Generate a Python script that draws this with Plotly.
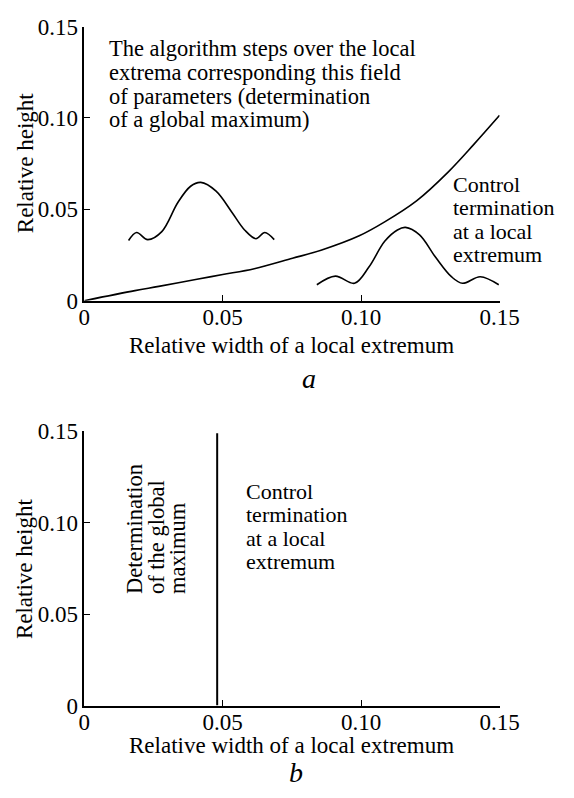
import plotly.graph_objects as go

W, H = 574, 798
FONT = "Liberation Serif"

# ---------------- data ----------------
# panel a: boundary curve between the two regimes
boundary_x = [0, 0.0183, 0.0269, 0.0407, 0.05, 0.0614, 0.0752, 0.0855, 0.0993, 0.1085, 0.12, 0.1315, 0.1407, 0.15]
boundary_y = [0, 0.0055, 0.0078, 0.0117, 0.0143, 0.0175, 0.0232, 0.0276, 0.0355, 0.0431, 0.0546, 0.0705, 0.0855, 0.1014]

# panel a: sketch of the wide (global) extremum
wide_x = [0.016, 0.0189, 0.0229, 0.028, 0.0338, 0.0384, 0.0421, 0.0476, 0.0533, 0.0579, 0.062, 0.0652, 0.0686]
wide_y = [0.0329, 0.0373, 0.0334, 0.0378, 0.0537, 0.0626, 0.0647, 0.0599, 0.0484, 0.0387, 0.0339, 0.0373, 0.0334]

# panel a: sketch of the narrow (local) extremum
narrow_x = [0.084, 0.0907, 0.0976, 0.1028, 0.1085, 0.1131, 0.116, 0.1211, 0.1269, 0.1326, 0.1366, 0.143, 0.1497]
narrow_y = [0.0087, 0.0134, 0.0095, 0.0184, 0.0325, 0.0387, 0.0401, 0.036, 0.0237, 0.0131, 0.0095, 0.0131, 0.0087]

# panel b: vertical boundary
boundary_b_x = [0.048, 0.048]
boundary_b_y = [0, 0.149]

tick_vals = [0, 0.05, 0.10, 0.15]
tick_text = ["0", "0.05", "0.10", "0.15"]

# ---------------- helpers ----------------
def px(x):
    return x / W

def py(y):
    return 1 - y / H

line_style = dict(color="black", width=1.6)

fig = go.Figure()
fig.add_trace(go.Scatter(x=boundary_x, y=boundary_y, mode="lines", line=dict(line_style, shape="spline"),
                         xaxis="x", yaxis="y", showlegend=False))
fig.add_trace(go.Scatter(x=wide_x, y=wide_y, mode="lines", line=dict(line_style, shape="spline"),
                         xaxis="x", yaxis="y", showlegend=False))
fig.add_trace(go.Scatter(x=narrow_x, y=narrow_y, mode="lines", line=dict(line_style, shape="spline"),
                         xaxis="x", yaxis="y", showlegend=False))
fig.add_trace(go.Scatter(x=boundary_b_x, y=boundary_b_y, mode="lines", line=dict(color="black", width=2),
                         xaxis="x2", yaxis="y2", showlegend=False))

axis_common = dict(
    range=[0, 0.15], tickvals=tick_vals, ticktext=tick_text,
    ticks="inside", ticklen=6, tickwidth=1, tickcolor="black",
    showline=True, linecolor="black", linewidth=1.5,
    showgrid=False, zeroline=False,
    tickfont=dict(family=FONT, size=23, color="black"),
    fixedrange=True,
)

xdom = [px(82), px(517)]
fig.update_layout(
    width=W, height=H,
    margin=dict(l=0, r=0, t=0, b=0),
    paper_bgcolor="white", plot_bgcolor="white",
    font=dict(family=FONT, size=23, color="black"),
    xaxis=dict(axis_common, domain=xdom, anchor="y", ticklabelstandoff=-5),
    yaxis=dict(axis_common, domain=[py(298), py(15)], anchor="x"),
    xaxis2=dict(axis_common, domain=xdom, anchor="y2", ticklabelstandoff=-5),
    yaxis2=dict(axis_common, domain=[py(716), py(433)], anchor="x2"),
)

ann = []

def text(x, y, s, size=22.5, xanchor="left", yanchor="middle", angle=0, italic=False):
    ann.append(dict(
        x=px(x), y=py(y), xref="paper", yref="paper", text=s, showarrow=False,
        xanchor=xanchor, yanchor=yanchor, textangle=angle,
        font=dict(family=FONT, size=size, color="black", style="italic" if italic else "normal"),
    ))

# panel a texts
for i, s in enumerate(["The algorithm steps over the local",
                       "extrema corresponding this field",
                       "of parameters (determination",
                       "of a global maximum)"]):
    text(106, 38 + i * 24.4, s)
for i, s in enumerate(["Control", "termination", "at a local", "extremum"]):
    text(466, 178 + i * 24.2, s, size=22)
text(299.5, 344, "Relative width of a local extremum", size=23, xanchor="center")
text(20, 156, "Relative height", size=23, xanchor="center", angle=-90)
text(317, 378, "a", size=28, xanchor="center", italic=True)

# panel b texts
for i, s in enumerate(["Control", "termination", "at a local", "extremum"]):
    text(249, 495 + i * 24.2, s, size=22)
for xc, s in zip([134, 157, 179], ["Determination", "of the global", "maximum"]):
    text(xc, 603, s, xanchor="center", yanchor="bottom", angle=-90)
text(299.5, 757, "Relative width of a local extremum", size=23, xanchor="center")
text(20, 575, "Relative height", size=23, xanchor="center", angle=-90)
text(304, 785, "b", size=28, xanchor="center", italic=True)

fig.update_layout(annotations=ann)

fig.write_html("out.html", post_script="document.body.style.margin='0';",
               config={"displayModeBar": False})
